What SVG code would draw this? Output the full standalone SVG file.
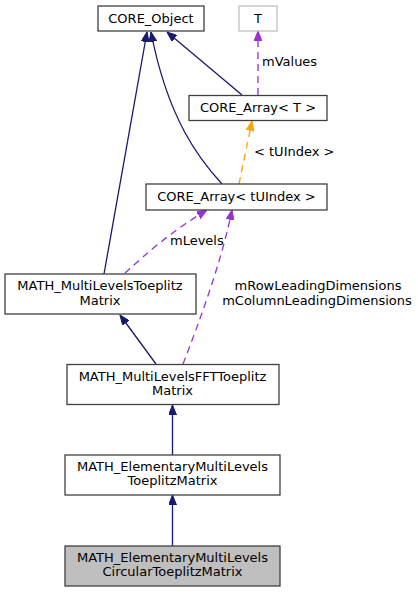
<svg xmlns="http://www.w3.org/2000/svg" width="418" height="592" viewBox="0 0 418 592">
<style>
text{font-family:"DejaVu Sans",sans-serif;font-size:13px;fill:#000;text-anchor:middle}
.lbl{text-anchor:start}
.box{fill:#fff;stroke:#404040;stroke-width:1.3}
.inh{fill:none;stroke:#191970;stroke-width:1.3}
.use{fill:none;stroke:#9a32cd;stroke-width:1.3;stroke-dasharray:7,5}
.tpl{fill:none;stroke:#ffa500;stroke-width:1.3;stroke-dasharray:7,5}
</style>
<defs>
<marker id="aInh" viewBox="0 0 10 8" refX="10" refY="4" markerWidth="10" markerHeight="8" markerUnits="userSpaceOnUse" orient="auto"><path d="M0,0 L10,4 L0,8 Z" fill="#191970" stroke="#191970"/></marker>
<marker id="aUse" viewBox="0 0 10 8" refX="10" refY="4" markerWidth="10" markerHeight="8" markerUnits="userSpaceOnUse" orient="auto"><path d="M0,0 L10,4 L0,8 Z" fill="#9a32cd" stroke="#9a32cd"/></marker>
<marker id="aTpl" viewBox="0 0 10 8" refX="10" refY="4" markerWidth="10" markerHeight="8" markerUnits="userSpaceOnUse" orient="auto"><path d="M0,0 L10,4 L0,8 Z" fill="#ffa500" stroke="#ffa500"/></marker>
</defs>
<g id="edges">
<path class="inh" d="M104,274 L147,32" marker-end="url(#aInh)"/>
<path class="inh" d="M222,184 C200,160 168,120 151,32" marker-end="url(#aInh)"/>
<path class="inh" d="M242,95 L167,32" marker-end="url(#aInh)"/>
<path class="use" d="M258,95 L258,31" marker-end="url(#aUse)"/>
<text class="lbl" x="262" y="66">mValues</text>
<path class="tpl" d="M239,184 L252,121" marker-end="url(#aTpl)"/>
<text class="lbl" x="254" y="156">&lt; tUIndex &gt;</text>
<path class="use" d="M125,273 C145,255 170,232 207,210" marker-end="url(#aUse)"/>
<text class="lbl" x="170" y="245">mLevels</text>
<path class="use" d="M183,364 C200,320 222,260 232,210" marker-end="url(#aUse)"/>
<text x="318" y="290">mRowLeadingDimensions</text>
<text x="317" y="305">mColumnLeadingDimensions</text>
<path class="inh" d="M156,364 L120,315" marker-end="url(#aInh)"/>
<path class="inh" d="M172.5,455 L172.5,405" marker-end="url(#aInh)"/>
<path class="inh" d="M172.5,546 L172.5,495" marker-end="url(#aInh)"/>
</g>
<g id="CORE_Object"><rect class="box" x="98" y="6" width="106" height="25"/><text x="151" y="23">CORE_Object</text></g>
<g id="T"><rect x="239" y="6" width="38" height="25" fill="#fff" stroke="#bfbfbf" stroke-width="1.3"/><text x="258" y="23">T</text></g>
<g id="CORE_Array_T"><rect class="box" x="189" y="95.5" width="138" height="25"/><text x="258" y="112">CORE_Array&lt; T &gt;</text></g>
<g id="CORE_Array_tUIndex"><rect class="box" x="146" y="184" width="181" height="26"/><text x="236.5" y="201">CORE_Array&lt; tUIndex &gt;</text></g>
<g id="MATH_MultiLevelsToeplitzMatrix"><rect class="box" x="5" y="274" width="191" height="40"/><text x="100" y="290">MATH_MultiLevelsToeplitz</text><text x="100" y="305">Matrix</text></g>
<g id="MATH_MultiLevelsFFTToeplitzMatrix"><rect class="box" x="67" y="364.5" width="212" height="40"/><text x="172.5" y="381">MATH_MultiLevelsFFTToeplitz</text><text x="172.5" y="395">Matrix</text></g>
<g id="MATH_ElementaryMultiLevelsToeplitzMatrix"><rect class="box" x="65" y="455" width="215" height="40"/><text x="172.5" y="471">MATH_ElementaryMultiLevels</text><text x="172.5" y="485">ToeplitzMatrix</text></g>
<g id="MATH_ElementaryMultiLevelsCircularToeplitzMatrix"><rect x="65" y="546" width="215" height="40" fill="#bfbfbf" stroke="#404040" stroke-width="1.3"/><text x="172.5" y="562">MATH_ElementaryMultiLevels</text><text x="172.5" y="576">CircularToeplitzMatrix</text></g>
</svg>
